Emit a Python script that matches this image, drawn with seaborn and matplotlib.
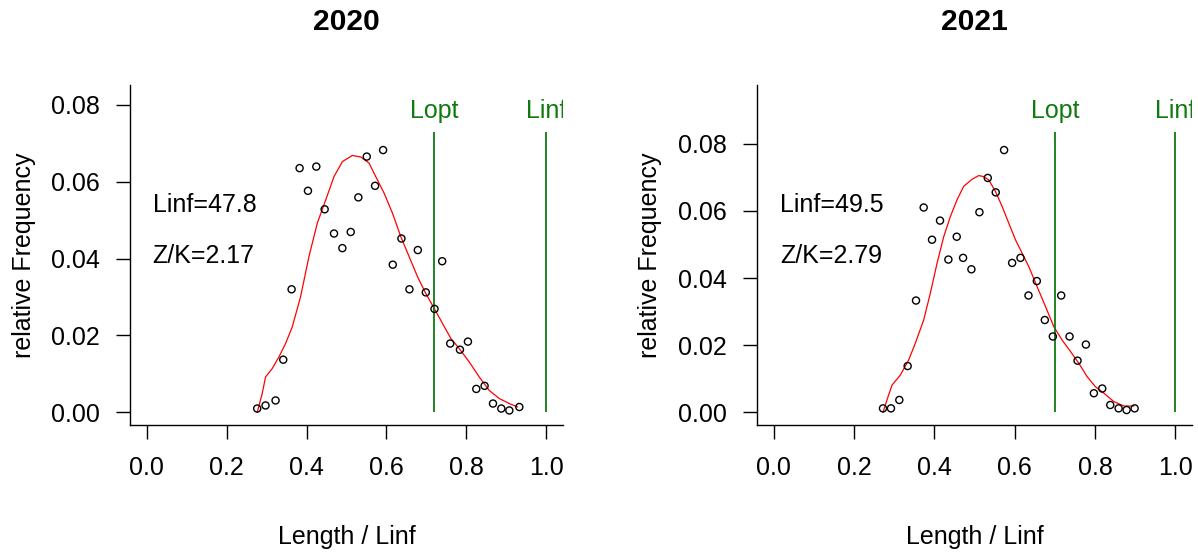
import numpy as np
import pandas as pd
import matplotlib
matplotlib.use("Agg")
import matplotlib.pyplot as plt
import seaborn as sns

# values (Length/Linf vs relative frequency)

# 2020
x_2020 = [0.2765, 0.2974, 0.3225, 0.3417, 0.3626, 0.3826, 0.4035, 0.4244,
          0.4453, 0.4687, 0.4896, 0.5105, 0.5296, 0.5506, 0.5714, 0.5915,
          0.6157, 0.6374, 0.6574, 0.6784, 0.6984, 0.7201, 0.7393, 0.7594,
          0.7837, 0.8037, 0.8246, 0.8454, 0.8664, 0.8872, 0.9073, 0.9323]
freq_2020 = [0.0010, 0.0018, 0.0031, 0.0137, 0.0320, 0.0635, 0.0576, 0.0639,
             0.0528, 0.0465, 0.0427, 0.0469, 0.0559, 0.0665, 0.0589, 0.0682,
             0.0384, 0.0452, 0.0320, 0.0422, 0.0312, 0.0269, 0.0393, 0.0179,
             0.0163, 0.0184, 0.0061, 0.0069, 0.0023, 0.0010, 0.0005, 0.0014]
curve_x_2020 = [0.2765, 0.2891, 0.2974, 0.3141, 0.3308, 0.3475, 0.3642, 0.3851,
                0.4060, 0.4269, 0.4478, 0.4687, 0.4896, 0.5146, 0.5355, 0.5564,
                0.5731, 0.5940, 0.6149, 0.6358, 0.6566, 0.6775, 0.6984, 0.7201,
                0.7402, 0.7611, 0.7820, 0.8070, 0.8321, 0.8571, 0.8822, 0.9073,
                0.9282]
curve_y_2020 = [0.0000, 0.0049, 0.0092, 0.0114, 0.0144, 0.0179, 0.0222, 0.0301,
                0.0405, 0.0492, 0.0552, 0.0613, 0.0652, 0.0668, 0.0664, 0.0648,
                0.0613, 0.0570, 0.0518, 0.0457, 0.0405, 0.0353, 0.0309, 0.0269,
                0.0231, 0.0192, 0.0166, 0.0131, 0.0092, 0.0057, 0.0036, 0.0023,
                0.0014]
lopt_2020 = 0.72
linf_2020 = 47.8
zk_2020 = 2.17

# 2021
x_2021 = [0.2720, 0.2919, 0.3127, 0.3335, 0.3543, 0.3734, 0.3942, 0.4141,
          0.4349, 0.4557, 0.4715, 0.4923, 0.5122, 0.5330, 0.5529, 0.5737,
          0.5937, 0.6145, 0.6344, 0.6552, 0.6751, 0.6951, 0.7159, 0.7367,
          0.7566, 0.7774, 0.7973, 0.8181, 0.8381, 0.8589, 0.8788, 0.8988]
freq_2021 = [0.0012, 0.0012, 0.0037, 0.0138, 0.0333, 0.0610, 0.0514, 0.0571,
             0.0455, 0.0523, 0.0460, 0.0426, 0.0596, 0.0698, 0.0655, 0.0781,
             0.0445, 0.0460, 0.0348, 0.0391, 0.0275, 0.0226, 0.0348, 0.0226,
             0.0154, 0.0202, 0.0057, 0.0071, 0.0022, 0.0012, 0.0007, 0.0012]
curve_x_2021 = [0.2720, 0.2820, 0.2944, 0.3152, 0.3360, 0.3526, 0.3734, 0.3900,
                0.4067, 0.4233, 0.4399, 0.4565, 0.4731, 0.4939, 0.5106, 0.5230,
                0.5355, 0.5521, 0.5688, 0.5854, 0.6020, 0.6186, 0.6352, 0.6560,
                0.6768, 0.6976, 0.7184, 0.7392, 0.7599, 0.7807, 0.8015, 0.8223,
                0.8472, 0.8722, 0.8971]
curve_y_2021 = [0.0000, 0.0037, 0.0081, 0.0111, 0.0156, 0.0206, 0.0275, 0.0355,
                0.0444, 0.0523, 0.0583, 0.0633, 0.0673, 0.0694, 0.0705, 0.0702,
                0.0692, 0.0658, 0.0613, 0.0563, 0.0514, 0.0474, 0.0434, 0.0374,
                0.0315, 0.0255, 0.0215, 0.0181, 0.0146, 0.0106, 0.0076, 0.0057,
                0.0032, 0.0019, 0.0019]
lopt_2021 = 0.70
linf_2021 = 49.5
zk_2021 = 2.79

years = ["2020", "2021"]
points = [pd.DataFrame({"x": x_2020, "freq": freq_2020}),
          pd.DataFrame({"x": x_2021, "freq": freq_2021})]
curves = [pd.DataFrame({"x": curve_x_2020, "y": curve_y_2020}),
          pd.DataFrame({"x": curve_x_2021, "y": curve_y_2021})]
lopts = [lopt_2020, lopt_2021]
linfs = [linf_2020, linf_2021]
zks = [zk_2020, zk_2021]

sns.set_style("white")
plt.rcParams['font.family'] = ['Liberation Sans', 'DejaVu Sans']
plt.rcParams['font.size'] = 18
plt.rcParams['text.color'] = "black"
plt.rcParams['axes.labelcolor'] = "black"
plt.rcParams['xtick.color'] = "black"
plt.rcParams['ytick.color'] = "black"

green = "#107a10"

fig = plt.figure(figsize=(11.98, 5.53), dpi=100)
axes = [fig.add_axes([0.1085, 0.2315, 0.3615, 0.6148]),
        fig.add_axes([0.6319, 0.2315, 0.3631, 0.6148])]

for ax, year, pts, cur, lopt, linf, zk in zip(axes, years, points, curves, lopts, linfs, zks):
    ymax = pts["freq"].max() * 1.2

    sns.lineplot(data=cur, x="x", y="y", ax=ax, color="red", linewidth=0.9,
                 sort=False, estimator=None)
    sns.scatterplot(data=pts, x="x", y="freq", ax=ax, marker="o", s=26,
                    facecolor="none", edgecolor="black", linewidth=1.0, zorder=3)

    # Lopt and Linf markers
    ax.vlines([lopt, 1.0], 0, 0.89 * ymax, color=green, linewidth=1.3)
    ax.text(lopt, 0.957 * ymax, "Lopt", color=green, ha="center", va="center",
            fontsize=18, clip_on=True)
    ax.text(1.0, 0.957 * ymax, "Linf", color=green, ha="center", va="center",
            fontsize=18, clip_on=True)

    ax.text(0.015, 0.66 * ymax, "Linf=%.1f" % linf, ha="left", va="center", fontsize=18)
    ax.text(0.015, 0.497 * ymax, "Z/K=%.2f" % zk, ha="left", va="center", fontsize=18)

    ax.set_xlim(-0.0417, 1.0417)
    ax.set_ylim(-0.04 * ymax, 1.04 * ymax)
    ax.set_xticks([0.0, 0.2, 0.4, 0.6, 0.8, 1.0])
    ax.set_xticklabels(["0.0", "0.2", "0.4", "0.6", "0.8", "1.0"])
    ax.set_yticks([0.0, 0.02, 0.04, 0.06, 0.08])
    ax.set_yticklabels(["0.00", "0.02", "0.04", "0.06", "0.08"])

    sns.despine(ax=ax)
    for side in ["left", "bottom"]:
        ax.spines[side].set_color("black")
        ax.spines[side].set_linewidth(1.0)
    ax.tick_params(axis="both", direction="out", length=10, width=1.0,
                   color="black", labelcolor="black", labelsize=18, pad=12,
                   left=True, bottom=True)

    ax.set_xlabel("Length / Linf", fontsize=18)
    ax.set_ylabel("relative Frequency", fontsize=18)
    ax.xaxis.set_label_coords(0.5, -0.33)
    ax.xaxis.label.set_va("center")
    ax.yaxis.set_label_coords(-0.245, 0.5)
    ax.yaxis.label.set_va("center")

    ax.set_title(year, fontsize=21.6, fontweight="bold",
                 y=1.0 + (85 - 30) / 340.0, va="center")

fig.savefig("out.png", dpi=100)
